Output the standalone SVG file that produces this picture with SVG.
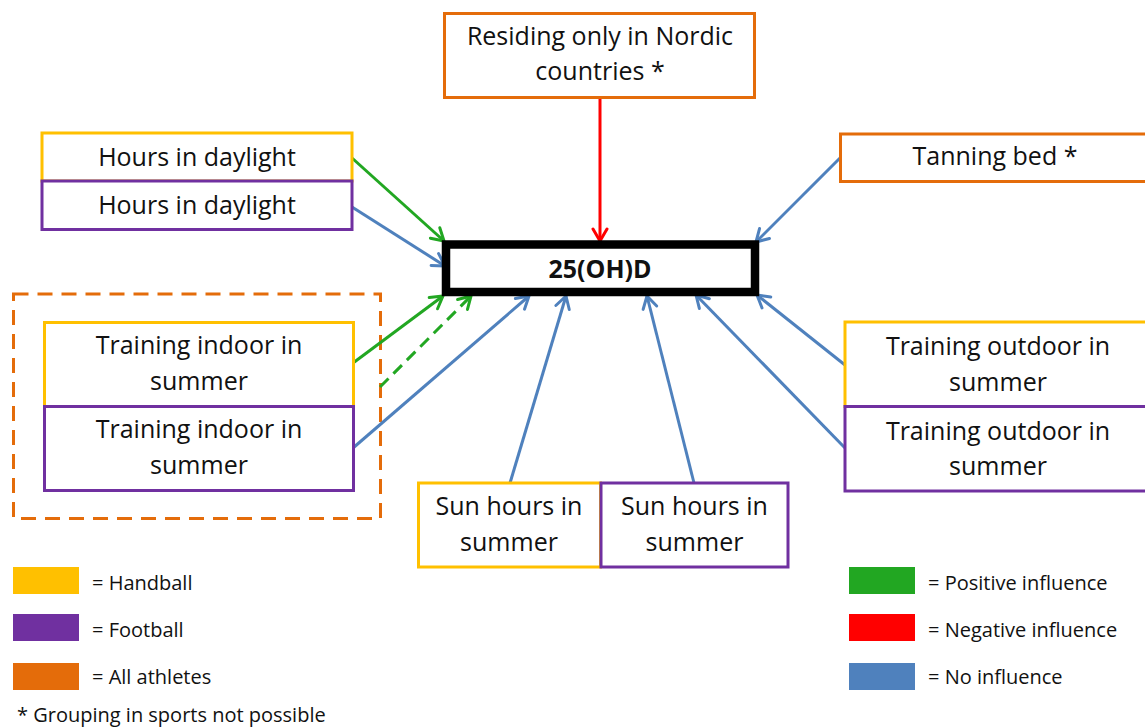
<svg xmlns="http://www.w3.org/2000/svg" width="1145" height="727" viewBox="0 0 1145 727">
<style>
.t{font-family:"Open Sans","Liberation Sans",sans-serif;font-size:25px;fill:#111;text-anchor:middle}
.lg{font-family:"Open Sans","Liberation Sans",sans-serif;font-size:20px;fill:#111}
.b{fill:#fff;stroke-width:3}
.hb{stroke:#FFC000}.fb{stroke:#7030A0}.all{stroke:#E46C0A}
.c{fill:none;stroke-width:3}
.g{stroke:#22A722}.bl{stroke:#4F81BD}.r{stroke:#FF0000}
</style>
<defs>
<marker id="ag" viewBox="0 0 16 18" refX="14" refY="9" markerWidth="16" markerHeight="18" markerUnits="userSpaceOnUse" orient="auto"><path d="M2,2 L14,9 L2,16" fill="none" stroke="#22A722" stroke-width="3" stroke-linecap="round" stroke-linejoin="round"/></marker>
<marker id="ab" viewBox="0 0 16 18" refX="14" refY="9" markerWidth="16" markerHeight="18" markerUnits="userSpaceOnUse" orient="auto"><path d="M2,2 L14,9 L2,16" fill="none" stroke="#4F81BD" stroke-width="3" stroke-linecap="round" stroke-linejoin="round"/></marker>
<marker id="ar" viewBox="0 0 16 18" refX="14" refY="9" markerWidth="16" markerHeight="18" markerUnits="userSpaceOnUse" orient="auto"><path d="M2,2 L14,9 L2,16" fill="none" stroke="#FF0000" stroke-width="3" stroke-linecap="round" stroke-linejoin="round"/></marker>
</defs>
<rect width="1145" height="727" fill="#fff"/>

<g id="group-indoor">
<rect x="13.5" y="294" width="367" height="224.5" fill="none" stroke="#E46C0A" stroke-width="3" stroke-dasharray="15,9"/>
</g>

<g id="connectors">
<line class="c r" x1="600" y1="97" x2="600" y2="241" marker-end="url(#ar)"/>
<line class="c g" x1="352" y1="158" x2="444" y2="241" marker-end="url(#ag)"/>
<line class="c bl" x1="352" y1="207" x2="445" y2="266" marker-end="url(#ab)"/>
<line class="c g" x1="353" y1="363" x2="443" y2="296" marker-end="url(#ag)"/>
<line class="c g" x1="380" y1="387" x2="471" y2="296" stroke-dasharray="12,7" marker-end="url(#ag)"/>
<line class="c bl" x1="353" y1="448" x2="529" y2="296" marker-end="url(#ab)"/>
<line class="c bl" x1="510" y1="483" x2="566" y2="296" marker-end="url(#ab)"/>
<line class="c bl" x1="694" y1="483" x2="647" y2="296" marker-end="url(#ab)"/>
<line class="c bl" x1="845" y1="448" x2="696" y2="295" marker-end="url(#ab)"/>
<line class="c bl" x1="845" y1="365" x2="757" y2="295" marker-end="url(#ab)"/>
<line class="c bl" x1="840" y1="158" x2="756" y2="242" marker-end="url(#ab)"/>
</g>

<g id="node-nordic">
<rect class="b all" x="444.5" y="13.5" width="310" height="84"/>
<text class="t" x="600" y="45">Residing only in Nordic</text>
<text class="t" x="600" y="80">countries *</text>
</g>

<g id="node-25ohd">
<rect x="446" y="244.5" width="309" height="47.5" fill="#fff" stroke="#000" stroke-width="8.5"/>
<text x="600" y="278" font-family="Open Sans, Liberation Sans, sans-serif" font-size="25" font-weight="bold" text-anchor="middle" fill="#111">25(OH)D</text>
</g>

<g id="node-daylight-handball">
<rect class="b hb" x="42" y="133" width="310" height="48"/>
<text class="t" x="197" y="166">Hours in daylight</text>
</g>
<g id="node-daylight-football">
<rect class="b fb" x="42" y="181" width="310" height="48.5"/>
<text class="t" x="197" y="214">Hours in daylight</text>
</g>

<g id="node-indoor-handball">
<rect class="b hb" x="44.5" y="322.5" width="309" height="84"/>
<text class="t" x="199" y="354">Training indoor in</text>
<text class="t" x="199" y="390">summer</text>
</g>
<g id="node-indoor-football">
<rect class="b fb" x="44.5" y="406.5" width="309" height="84"/>
<text class="t" x="199" y="438">Training indoor in</text>
<text class="t" x="199" y="474">summer</text>
</g>

<g id="node-sun-handball">
<rect class="b hb" x="418.5" y="483" width="182" height="84"/>
<text class="t" x="509" y="515">Sun hours in</text>
<text class="t" x="509" y="551">summer</text>
</g>
<g id="node-sun-football">
<rect class="b fb" x="601" y="483" width="187" height="84"/>
<text class="t" x="694.5" y="515">Sun hours in</text>
<text class="t" x="694.5" y="551">summer</text>
</g>

<g id="node-tanning">
<rect class="b all" x="840.5" y="134" width="310" height="47.5"/>
<text class="t" x="995" y="165">Tanning bed *</text>
</g>

<g id="node-outdoor-handball">
<rect class="b hb" x="845" y="322" width="310" height="84.5"/>
<text class="t" x="998" y="355">Training outdoor in</text>
<text class="t" x="998" y="391">summer</text>
</g>
<g id="node-outdoor-football">
<rect class="b fb" x="845" y="406.5" width="310" height="84.5"/>
<text class="t" x="998" y="440">Training outdoor in</text>
<text class="t" x="998" y="475">summer</text>
</g>

<g id="legend">
<rect x="13" y="567" width="66" height="27" fill="#FFC000"/>
<text class="lg" x="92" y="590">= Handball</text>
<rect x="13" y="614" width="66" height="27" fill="#7030A0"/>
<text class="lg" x="92" y="637">= Football</text>
<rect x="13" y="663" width="66" height="27" fill="#E46C0A"/>
<text class="lg" x="92" y="684">= All athletes</text>
<text class="lg" x="17" y="722">* Grouping in sports not possible</text>
<rect x="849" y="567" width="66" height="27" fill="#22A722"/>
<text class="lg" x="928" y="590">= Positive influence</text>
<rect x="849" y="614" width="66" height="27" fill="#FF0000"/>
<text class="lg" x="928" y="637">= Negative influence</text>
<rect x="849" y="663" width="66" height="27" fill="#4F81BD"/>
<text class="lg" x="928" y="684">= No influence</text>
</g>
</svg>
